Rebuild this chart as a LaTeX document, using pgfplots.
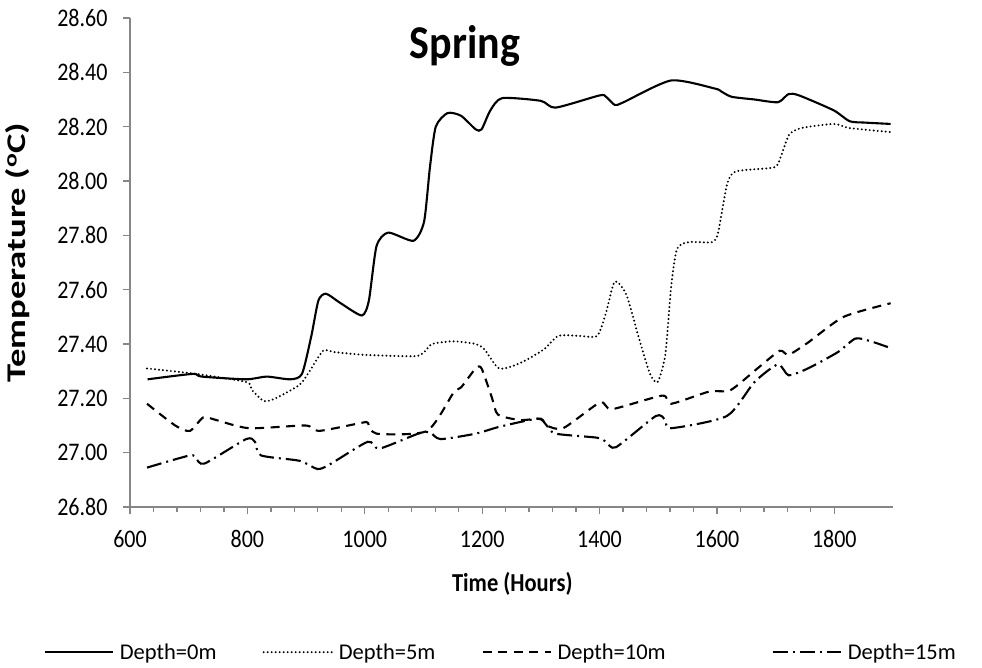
\documentclass[border=0pt]{standalone}
\usepackage{fontspec}
\setmainfont{Carlito}
\usepackage{pgfplots}
\pgfplotsset{compat=1.18}
\definecolor{axisgray}{HTML}{868686}
\begin{document}
\begin{tikzpicture}[x=1pt,y=1pt]
\useasboundingbox (0,0) rectangle (982,668);
\begin{axis}[
  at={(130pt,161pt)}, anchor=south west,
  scale only axis, width=763pt, height=489pt,
  xmin=600, xmax=1900, ymin=26.8, ymax=28.6,
  axis x line*=bottom, axis y line*=left,
  axis line style={draw=axisgray, line width=1.3pt},
  xtick={600,800,1000,1200,1400,1600,1800},
  minor x tick num=4,
  ytick={26.8,27.0,27.2,27.4,27.6,27.8,28.0,28.2,28.4,28.6},
  tick align=outside,
  major tick length=7pt, minor tick length=5pt,
  every tick/.style={draw=axisgray, line width=1.3pt},
  /pgf/number format/assume math mode=true,
  ticklabel style={font=\fontsize{22}{24}\selectfont, yscale=1.15},
  yticklabel style={xshift=-12pt, /pgf/number format/.cd, fixed, fixed zerofill, precision=2},
  xticklabel style={yshift=-11pt, /pgf/number format/.cd, fixed, 1000 sep={}},
  title={Spring},
  title style={at={(0.439,0.93)}, anchor=center, yscale=1.12, font=\fontsize{42}{46}\selectfont\bfseries},
  xlabel={Time (Hours)},
  xlabel style={at={(axis description cs:0.501,-0.157)}, anchor=center, yscale=1.15, font=\fontsize{22.5}{24}\selectfont\bfseries},
  ylabel={Temperature (\textsuperscript{o}C)},
  ylabel style={at={(axis description cs:-0.147,0.52)}, anchor=center, xscale=1.36, font=\fontsize{27}{30}\selectfont\bfseries},
  legend columns=4,
  legend cell align=left,
  legend image code/.code={\draw[#1] (0pt,0pt) -- (68pt,0pt);},
  legend style={draw=none, at={(0.486,-0.297)}, anchor=center,
    font=\fontsize{22.5}{24}\selectfont,
    /tikz/every odd column/.append style={column sep=4pt},
    /tikz/every even column/.append style={column sep=44pt}},
  every axis plot/.append style={black, line width=2.1pt, smooth, tension=0.4},
]
\addplot[solid] coordinates {
(630,27.27)(707,27.29)(722,27.28)(798,27.27)(833,27.28)(873,27.27)(893,27.29)(909,27.43)(921,27.56)(934,27.585)(959,27.55)(995,27.505)(1007,27.56)(1020,27.76)(1040,27.81)(1083,27.78)(1101,27.85)(1111,28.05)(1121,28.20)(1141,28.25)(1164,28.24)(1189,28.19)(1199,28.19)(1214,28.26)(1234,28.305)(1300,28.295)(1325,28.27)(1400,28.315)(1411,28.31)(1426,28.28)(1441,28.29)(1522,28.37)(1597,28.34)(1607,28.33)(1625,28.31)(1664,28.30)(1704,28.29)(1722,28.32)(1740,28.315)(1799,28.26)(1826,28.22)(1852,28.215)(1896,28.21)
};
\addlegendentry{Depth=0m}
\addplot[line cap=round, dash pattern=on 0pt off 4pt, line width=2.2pt] coordinates {
(629,27.31)(712,27.29)(798,27.26)(808,27.23)(828,27.19)(848,27.20)(889,27.25)(906,27.30)(929,27.375)(949,27.37)(1000,27.36)(1085,27.355)(1101,27.37)(1115,27.40)(1151,27.41)(1189,27.40)(1204,27.38)(1229,27.31)(1265,27.33)(1305,27.38)(1330,27.43)(1365,27.43)(1396,27.43)(1411,27.515)(1426,27.63)(1446,27.58)(1466,27.43)(1486,27.29)(1499,27.26)(1512,27.36)(1522,27.61)(1532,27.75)(1552,27.775)(1592,27.775)(1602,27.81)(1617,27.985)(1632,28.035)(1697,28.05)(1708,28.085)(1723,28.17)(1744,28.195)(1799,28.21)(1826,28.195)(1896,28.18)
};
\addlegendentry{Depth=5m}
\addplot[dash pattern=on 9pt off 6.5pt] coordinates {
(629,27.18)(677,27.10)(702,27.08)(725,27.13)(747,27.12)(803,27.09)(899,27.10)(922,27.08)(995,27.11)(1005,27.11)(1020,27.07)(1106,27.08)(1151,27.22)(1164,27.24)(1189,27.31)(1199,27.31)(1217,27.20)(1227,27.14)(1265,27.12)(1300,27.125)(1310,27.10)(1338,27.09)(1401,27.185)(1421,27.16)(1507,27.21)(1522,27.18)(1587,27.225)(1623,27.23)(1669,27.31)(1707,27.375)(1722,27.36)(1755,27.405)(1816,27.50)(1896,27.55)
};
\addlegendentry{Depth=10m\rule{60pt}{0pt}}
\addplot[dash pattern=on 15pt off 5pt on 2pt off 5pt] coordinates {
(629,26.945)(702,26.99)(712,26.98)(727,26.96)(798,27.05)(813,27.04)(823,26.99)(889,26.97)(919,26.94)(939,26.955)(1005,27.04)(1025,27.015)(1091,27.07)(1111,27.075)(1129,27.05)(1189,27.07)(1229,27.095)(1295,27.125)(1310,27.10)(1325,27.07)(1396,27.055)(1411,27.04)(1428,27.02)(1496,27.135)(1512,27.12)(1522,27.09)(1617,27.135)(1664,27.26)(1704,27.325)(1722,27.285)(1755,27.31)(1806,27.37)(1836,27.42)(1862,27.41)(1896,27.385)
};
\addlegendentry{Depth=15m}
\end{axis}
\end{tikzpicture}
\end{document}
